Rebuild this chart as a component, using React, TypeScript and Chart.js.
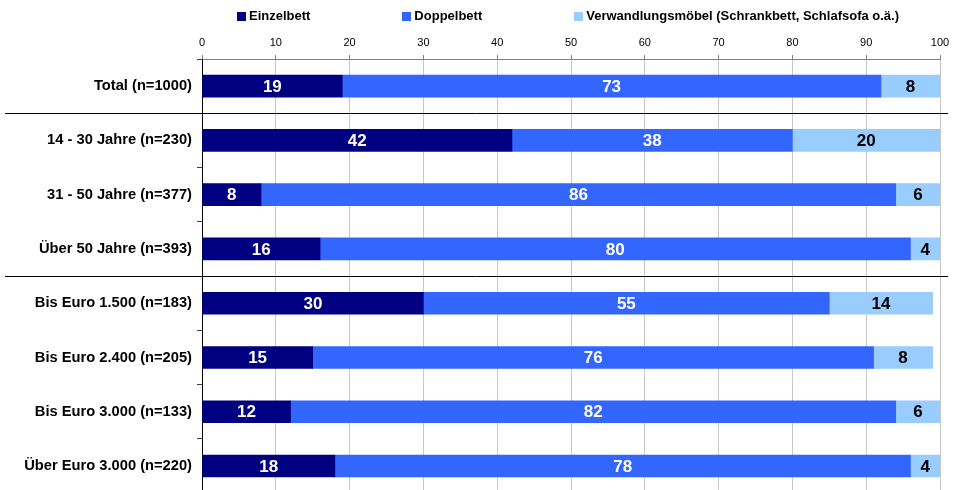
import React, { useEffect, useRef } from "react";
import { Chart, registerables } from "chart.js";

Chart.register(...registerables);

const categories = [
  "Total (n=1000)",
  "14 - 30 Jahre (n=230)",
  "31 - 50 Jahre (n=377)",
  "Über 50 Jahre (n=393)",
  "Bis Euro 1.500 (n=183)",
  "Bis Euro 2.400 (n=205)",
  "Bis Euro 3.000 (n=133)",
  "Über Euro 3.000 (n=220)",
];
const einzelbett = [19, 42, 8, 16, 30, 15, 12, 18];
const doppelbett = [73, 38, 86, 80, 55, 76, 82, 78];
const verwandlung = [8, 20, 6, 4, 14, 8, 6, 4];
const seriesLabels = [
  "Einzelbett",
  "Doppelbett",
  "Verwandlungsmöbel (Schrankbett, Schlafsofa o.ä.)",
];
const seriesColors = ["#000080", "#3366FF", "#99CCFF"];
const valueColors = ["#FFFFFF", "#FFFFFF", "#000000"];
const separatorsAfter = [0, 3];

const FONT = "'Liberation Sans', Arial, Helvetica, sans-serif";

const valueLabelPlugin = {
  id: "valueLabels",
  afterDatasetsDraw(chart: any) {
    const ctx = chart.ctx;
    ctx.save();
    ctx.font = `bold 17px ${FONT}`;
    ctx.textAlign = "center";
    ctx.textBaseline = "middle";
    chart.data.datasets.forEach((ds: any, di: number) => {
      const meta = chart.getDatasetMeta(di);
      meta.data.forEach((el: any, i: number) => {
        const v = ds.data[i];
        if (!v) return;
        ctx.fillStyle = valueColors[di];
        ctx.fillText(String(v), (el.x + el.base) / 2, el.y + 1);
      });
    });
    ctx.restore();
  },
};

const separatorPlugin = {
  id: "separators",
  afterDraw(chart: any) {
    const ctx = chart.ctx;
    const y = chart.scales.y;
    ctx.save();
    ctx.strokeStyle = "#000000";
    ctx.lineWidth = 1;
    separatorsAfter.forEach((i) => {
      const py = Math.round((y.getPixelForValue(i) + y.getPixelForValue(i + 1)) / 2) + 0.5;
      ctx.beginPath();
      ctx.moveTo(5, py);
      ctx.lineTo(chart.width - 8, py);
      ctx.stroke();
    });
    ctx.restore();
  },
};

const legendPlugin = {
  id: "customLegend",
  afterDraw(chart: any) {
    const ctx = chart.ctx;
    const box = 9;
    const boxGap = 3;
    const itemGap = 92;
    ctx.save();
    ctx.font = `bold 13px ${FONT}`;
    ctx.textBaseline = "middle";
    ctx.textAlign = "left";
    const widths = seriesLabels.map((t) => box + boxGap + ctx.measureText(t).width);
    const total = widths.reduce((a, b) => a + b, 0) + itemGap * (widths.length - 1);
    const ca = chart.chartArea;
    let x = (ca.left + ca.right) / 2 - total / 2 - 3;
    const cy = 16.5;
    seriesLabels.forEach((t, i) => {
      ctx.fillStyle = seriesColors[i];
      ctx.fillRect(Math.round(x), Math.round(cy - box / 2), box, box);
      ctx.fillStyle = "#000000";
      ctx.fillText(t, x + box + boxGap, cy);
      x += widths[i] + itemGap;
    });
    ctx.restore();
  },
};

export default function App() {
  const ref = useRef<HTMLCanvasElement | null>(null);
  useEffect(() => {
    if (!ref.current) return;
    const chart = new Chart(ref.current, {
      type: "bar",
      data: {
        labels: categories,
        datasets: [
          { label: seriesLabels[0], data: einzelbett, backgroundColor: seriesColors[0] },
          { label: seriesLabels[1], data: doppelbett, backgroundColor: seriesColors[1] },
          { label: seriesLabels[2], data: verwandlung, backgroundColor: seriesColors[2] },
        ],
      },
      options: {
        indexAxis: "y",
        responsive: false,
        maintainAspectRatio: false,
        animation: false,
        layout: { padding: { top: 30, right: 16, left: 0, bottom: 5 } },
        datasets: { bar: { barThickness: 22, borderWidth: 0 } },
        plugins: {
          legend: { display: false },
          tooltip: { enabled: false },
        },
        scales: {
          x: {
            position: "top",
            stacked: true,
            min: 0,
            max: 100,
            afterFit: (s: any) => {
              s.height = 29;
            },
            ticks: {
              stepSize: 10,
              padding: 5,
              color: "#000000",
              font: { family: FONT, size: 11 },
            },
            grid: {
              color: "#c8c8c8",
              tickColor: "#808080",
              tickLength: 4,
              lineWidth: 1,
            },
            border: { display: true, color: "#808080", width: 1 },
          },
          y: {
            stacked: true,
            offset: true,
            afterFit: (s: any) => {
              s.width = 202;
            },
            ticks: {
              padding: 5,
              color: "#000000",
              font: { family: FONT, size: 14.7, weight: "bold" },
            },
            grid: {
              offset: true,
              drawOnChartArea: false,
              drawTicks: true,
              tickLength: 5,
              tickColor: "#404040",
            },
            border: { display: true, color: "#000000", width: 1 },
          },
        },
      },
      plugins: [valueLabelPlugin, separatorPlugin, legendPlugin],
    } as any);
    return () => chart.destroy();
  }, []);

  return (
    <div
      style={{
        position: "fixed",
        left: 0,
        top: 0,
        width: 956,
        height: 490,
        overflow: "hidden",
        background: "#ffffff",
      }}
    >
      <canvas ref={ref} width={956} height={507} style={{ display: "block" }} />
    </div>
  );
}
